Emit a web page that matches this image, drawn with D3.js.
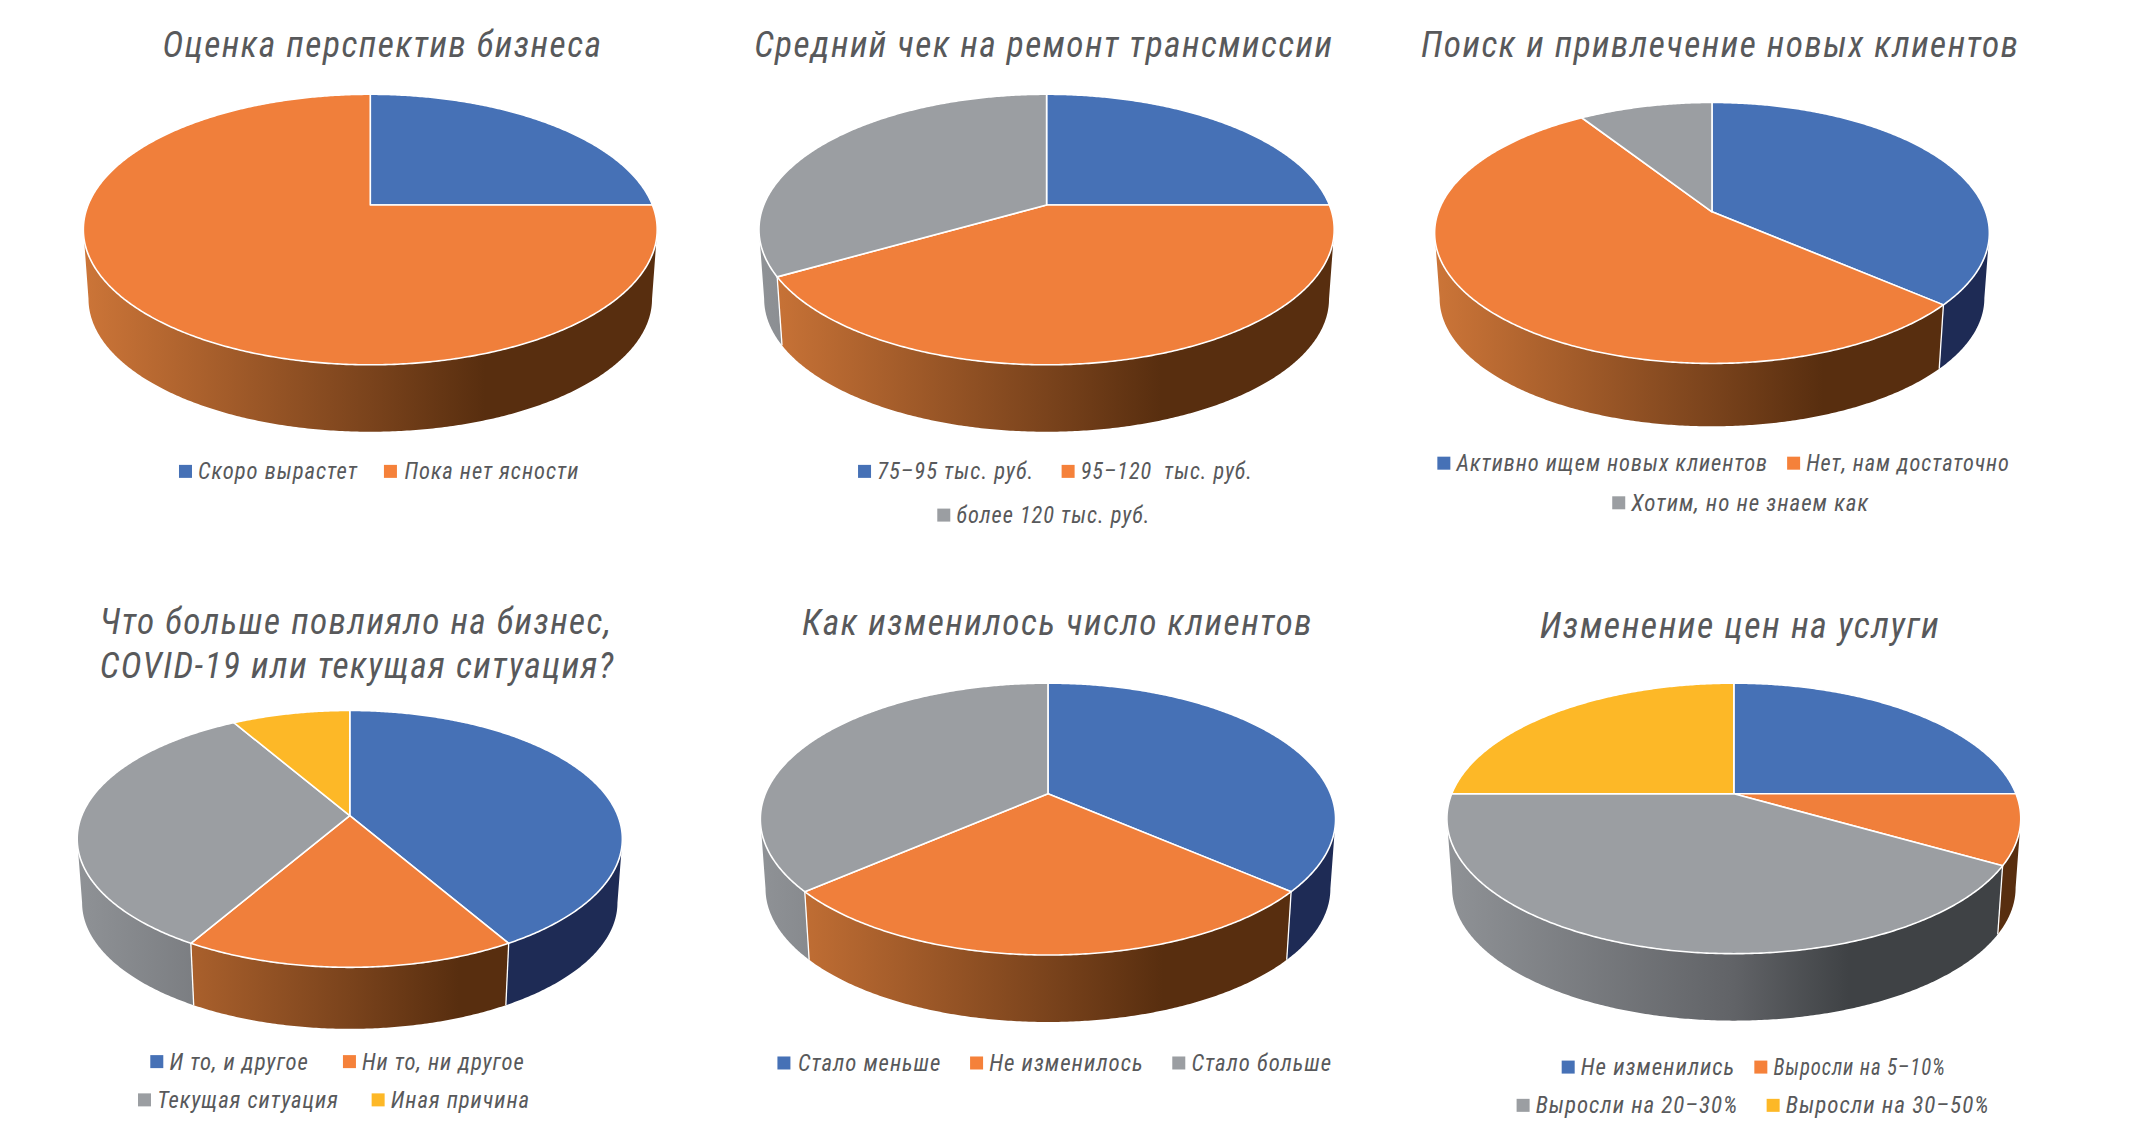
<!DOCTYPE html>
<html><head><meta charset="utf-8">
<script src="https://cdn.jsdelivr.net/npm/d3@7/dist/d3.min.js"></script>
<style>html,body{margin:0;padding:0;background:#fff;overflow:hidden}svg{display:block}
text{font-family:"Liberation Sans Narrow","Roboto Condensed","Liberation Sans",sans-serif;font-style:italic;fill:#58595b;white-space:pre}</style>
</head><body><svg id="c" width="2141" height="1145"></svg>
<script>
// --- data ---
const titles = [
  ["Оценка перспектив бизнеса"],
  ["Средний чек на ремонт трансмиссии"],
  ["Поиск и привлечение новых клиентов"],
  ["Что больше повлияло на бизнес,", "COVID-19 или текущая ситуация?"],
  ["Как изменилось число клиентов"],
  ["Изменение цен на услуги"]
];
const categories = [
  ["Скоро вырастет", "Пока нет ясности"],
  ["75–95 тыс. руб.", "95–120  тыс. руб.", "более 120 тыс. руб."],
  ["Активно ищем новых клиентов", "Нет, нам достаточно", "Хотим, но не знаем как"],
  ["И то, и другое", "Ни то, ни другое", "Текущая ситуация", "Иная причина"],
  ["Стало меньше", "Не изменилось", "Стало больше"],
  ["Не изменились", "Выросли на 5–10%", "Выросли на 20–30%", "Выросли на 30–50%"]
];
const values = [
  [3, 9],
  [3, 5, 4],
  [4, 6, 1],
  [5, 2, 4, 1],
  [4, 3, 4],
  [3, 1, 5, 3]
];

// --- layout (in reference-view units, scaled by S) ---
const S = 2141 / 1567;
const geometry = [
  {cx:271,  apex:150, top:69,  bot:267, left:61,   right:481,  low:316},
  {cx:766,  apex:150, top:69,  bot:267, left:555,  right:976,  low:316},
  {cx:1253, apex:155, top:75,  bot:266, left:1050, right:1456, low:312},
  {cx:256,  apex:597, top:520, bot:708, left:56,   right:455,  low:753},
  {cx:767,  apex:581, top:500, bot:699, left:557,  right:978,  low:748},
  {cx:1269, apex:581, top:500, bot:698, left:1059, right:1479, low:747}
];
const titlePos = [
  [[119,441,42]],
  [[552,976,42]],
  [[1040,1478,42]],
  [[73,448,464],[73,450,496]],
  [[587,961,465]],
  [[1127,1420,467]]
];
// swatch x, text start, text end, centre y
const legendPos = [
  [[131,145,262,345],[281,296,424,345]],
  [[628,642,757,345],[777,791,917,345],[686,700,842,377]],
  [[1052,1066,1294,339],[1308,1322,1471,339],[1180,1194,1368,368]],
  [[110,124,226,777],[251,265,384,777],[101,115,248,805],[272,286,388,805]],
  [[569,584,689,778],[710,724,837,778],[858,872,975,778]],
  [[1143,1157,1270,781],[1284,1298,1424,781],[1110,1124,1272,809],[1293,1307,1456,809]]
];
const palette = ["#4671b6", "#f07f3b", "#9b9ea2", "#fdb827"];
const legendPalette = ["#4671b6", "#f5813a", "#9b9ea2", "#fdb827"];
const wallRamps = [
  ["#27396f", "#22315f", "#1e2b55"],
  ["#cc7538", "#7a431c", "#582e0f"],
  ["#8f9296", "#616367", "#3f4245"],
  ["#c8932a", "#7f5e14", "#5e450c"]
];

const svg = d3.select("#c");
const defs = svg.append("defs");
const colour = d3.scaleOrdinal(d3.range(4), palette);
const pie = d3.pie().sort(null).startAngle(0).endAngle(2 * Math.PI);
const lineGen = d3.line();
const rad = d => d * Math.PI / 180;

geometry.forEach((g, ci) => {
  const G = Object.fromEntries(Object.entries(g).map(([k, v]) => [k, v * S]));
  const up = G.apex - G.top, dn = G.bot - G.apex;
  const c = -(dn - up) / (dn + up), k = dn * (1 + c);
  const rx = (G.right - G.left) / 2;
  const R = rx * Math.sqrt(1 - c * c);
  const shrink = 0.982;
  const apex2 = G.low - dn * shrink;
  const project = (a, layer) => {
    const u = Math.sin(a), v = -Math.cos(a), D = 1 + c * v, f = layer ? shrink : 1;
    return [G.cx + f * R * u / D, (layer ? apex2 : G.apex) + f * k * v / D];
  };
  const arcPts = (a0, a1, layer) => {
    const n = Math.max(2, Math.ceil((a1 - a0) / rad(0.5)));
    return d3.range(n + 1).map(i => project(a0 + (a1 - a0) * i / n, layer));
  };
  const slices = pie(values[ci]);
  const node = svg.append("g");

  slices.forEach((s, i) => {
    const gr = defs.append("linearGradient").attr("id", `w${ci}-${i}`)
      .attr("gradientUnits", "userSpaceOnUse")
      .attr("x1", G.cx - rx).attr("x2", G.cx + rx).attr("y1", 0).attr("y2", 0);
    const ramp = wallRamps[i];
    [[0, ramp[0]], [0.5, ramp[1]], [0.7, ramp[2]], [1, ramp[2]]].forEach(([o, col]) =>
      gr.append("stop").attr("offset", o).attr("stop-color", col));
  });

  // front of the disc: from the widest point on one side to the widest point on the other
  const e = (dn - up) / 2, vw = e / (k - c * e);
  const visA = Math.acos(-vw), visB = 2 * Math.PI - visA;
  slices.forEach((s, i) => {
    const a0 = Math.max(s.startAngle, visA), a1 = Math.min(s.endAngle, visB);
    if (a1 <= a0) return;
    const pts = arcPts(a0, a1, 0).concat(arcPts(a0, a1, 1).reverse());
    node.append("path").attr("d", lineGen(pts) + "Z").attr("fill", `url(#w${ci}-${i})`);
  });
  slices.forEach(s => {
    const a = s.startAngle;
    if (a > visA && a < visB)
      node.append("path").attr("d", lineGen([project(a, 0), project(a, 1)]))
        .attr("stroke", "#fff").attr("stroke-width", 1.3).attr("fill", "none");
  });
  slices.forEach((s, i) => {
    const pts = [[G.cx, G.apex]].concat(arcPts(s.startAngle, s.endAngle, 0));
    node.append("path").attr("d", lineGen(pts) + "Z").attr("fill", colour(i))
      .attr("stroke", "#fff").attr("stroke-width", 1.6).attr("stroke-linejoin", "round");
  });

  titles[ci].forEach((t, li) => {
    const [x0, x1, y] = titlePos[ci][li];
    svg.append("text").text(t).attr("x", x0 * S).attr("y", y * S)
      .attr("font-size", 36).attr("letter-spacing", 1.5)
      .attr("textLength", (x1 - x0) * S).attr("lengthAdjust", "spacingAndGlyphs");
  });
  categories[ci].forEach((t, i) => {
    const [sx, x0, x1, y] = legendPos[ci][i];
    svg.append("rect").attr("x", sx * S).attr("y", y * S - 6.5).attr("width", 13).attr("height", 13)
      .attr("fill", legendPalette[i]);
    svg.append("text").text(t).attr("x", x0 * S).attr("y", y * S + 8)
      .attr("font-size", 24).attr("letter-spacing", 1)
      .attr("textLength", (x1 - x0) * S).attr("lengthAdjust", "spacingAndGlyphs");
  });
});
</script></body></html>
